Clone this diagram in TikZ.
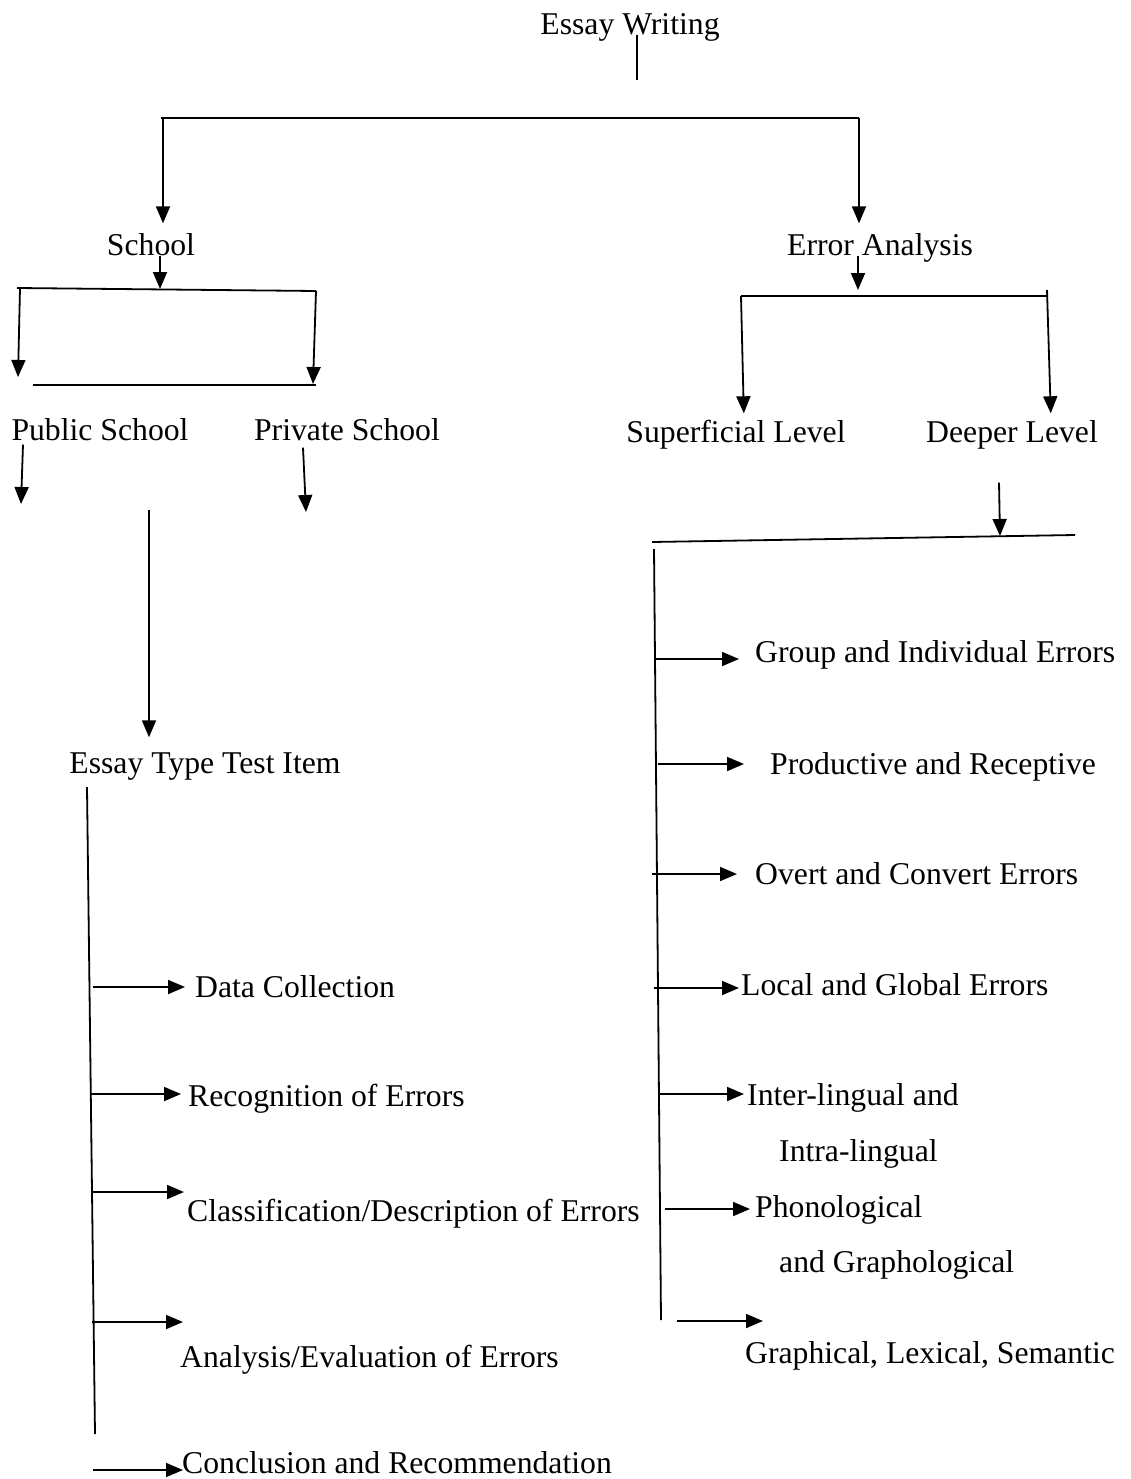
\documentclass[tikz,border=0pt]{standalone}
\usepackage{fontspec}
\setmainfont{Liberation Serif}
\usetikzlibrary{arrows.meta}
\tikzstyle{txt} = [inner sep=0pt, text height=21pt, text depth=0pt,
font=\fontsize{31.7}{38}\selectfont]
\tikzstyle{entry} = [txt, anchor=west]
\tikzstyle{wire} = [line width=1.8pt]
\tikzstyle{pointer} = [wire, -{Triangle[length=17pt,width=14pt]}]

\begin{document}
\begin{tikzpicture}[x=1pt, y=-1pt]
	\useasboundingbox (0,0) rectangle (1130,1479);
	% We start with the root and its first split
	\node [txt] (root) at (630,24) {Essay Writing};
	\coordinate (rootdrop) at (637,80);
	\draw [wire] (root.south -| rootdrop) -- (rootdrop);
	\coordinate (splitL) at (161,118);
	\coordinate (splitR) at (859,118);
	\draw [wire] (splitL) -- (splitR);
	\node [txt] (school) at (151,245) {School};
	\node [txt] (ea) at (880,245) {Error Analysis};
	\draw [pointer, shorten >=11pt] ([xshift=2pt]splitL) -- ([xshift=2pt]splitL |- school.north);
	\draw [pointer, shorten >=11pt] (splitR) -- (splitR |- ea.north);

	% The school branch
	\coordinate (sdrop) at (160,289);
	\coordinate (sbarL) at (17,288);
	\coordinate (sbarR) at (316,291);
	\draw [pointer] (school.south -| sdrop) -- (sdrop);
	\draw [wire] (sbarL) -- (sbarR);
	\coordinate (pubtip) at (18,377);
	\coordinate (privtip) at (313,384);
	\draw [pointer] ([xshift=3pt]sbarL) -- (pubtip);
	\draw [pointer] (sbarR) -- (privtip);
	\coordinate (sunderL) at (33,385);
	\draw [wire] (sunderL) -- (sbarR |- sunderL);
	\node [txt] (public) at (100,430) {Public School};
	\node [txt] (private) at (347,430) {Private School};
	\coordinate (pubend) at (21,504);
	\coordinate (privend) at (306,512);
	\draw [pointer] ([shift={(-77pt,-4pt)}]public.south) -- (pubend);
	\draw [pointer] ([shift={(-44pt,-7pt)}]private.south) -- (privend);
	\coordinate (midtop) at (149,510);
	\node [txt] (ett) at (205,763) {Essay Type Test Item};
	\draw [pointer, shorten >=15pt] (midtop) -- (midtop |- ett.north);

	% Steps hanging from the left spine
	\coordinate (spinetop) at (87,787);
	\coordinate (spinebot) at (95,1434);
	\draw [wire] (spinetop) -- (spinebot);
	\node [entry] (dc) at (195,987) {Data Collection};
	\node [entry] (roe) at (188,1096) {Recognition of Errors};
	\node [entry] (cde) at (187,1211) {Classification/Description of Errors};
	\node [entry] (aee) at (180,1357) {Analysis/Evaluation of Errors};
	\node [entry] (cr) at (182,1463) {Conclusion and Recommendation};
	\draw [pointer] ([xshift=-102pt]dc.west) -- ([xshift=-10pt]dc.west);
	\draw [pointer] ([shift={(-98pt,2pt)}]roe.west) -- ([shift={(-7pt,2pt)}]roe.west);
	\draw [pointer] ([shift={(-94pt,19pt)}]cde.west) -- ([shift={(-3pt,19pt)}]cde.west);
	\draw [pointer] ([shift={(-88pt,35pt)}]aee.west) -- ([shift={(3pt,35pt)}]aee.west);
	\draw [pointer] ([shift={(-89pt,-7pt)}]cr.west) -- ([shift={(1pt,-7pt)}]cr.west);

	% The error analysis branch
	\coordinate (eadrop) at (858,290);
	\draw [pointer] (ea.south -| eadrop) -- (eadrop);
	\coordinate (ebarL) at (741,296);
	\coordinate (ebarR) at (1047,296);
	\draw [wire] (ebarL) -- (ebarR);
	\node [txt] (sup) at (736,432) {Superficial Level};
	\node [txt] (deep) at (1012,432) {Deeper Level};
	\draw [pointer, shorten >=8pt] (ebarL) -- ([xshift=3pt]ebarL |- sup.north);
	\draw [pointer, shorten >=8pt] ([yshift=6pt]ebarR) -- ([xshift=4pt]ebarR |- deep.north);
	\coordinate (dhit) at (1000,536);
	\draw [pointer] ([shift={(-13pt,-40pt)}]deep.south) -- (dhit);
	\coordinate (dbarL) at (652,542);
	\coordinate (dbarR) at (1075,535);
	\draw [wire] (dbarL) -- (dbarR);

	% Kinds of errors on the right spine
	\coordinate (rspinetop) at (654,549);
	\coordinate (rspinebot) at (661,1320);
	\draw [wire] (rspinetop) -- (rspinebot);
	\node [entry] (ge) at (755,652) {Group and Individual Errors};
	\node [entry] (pr) at (770,764) {Productive and Receptive};
	\node [entry] (oc) at (755,874) {Overt and Convert Errors};
	\node [entry] (lg) at (741,985) {Local and Global Errors};
	\node [entry] (il) at (747,1095) {Inter-lingual and};
	\node [entry] (ilb) at (779,1151) {Intra-lingual};
	\node [entry] (ph) at (755,1207) {Phonological};
	\node [entry] (phb) at (779,1262) {and Graphological};
	\node [entry] (gr) at (745,1353) {Graphical, Lexical, Semantic};
	\draw [pointer] ([shift={(-100pt,-7pt)}]ge.west) -- ([shift={(-16pt,-7pt)}]ge.west);
	\draw [pointer] ([xshift=-112pt]pr.west) -- ([xshift=-26pt]pr.west);
	\draw [pointer] ([xshift=-103pt]oc.west) -- ([xshift=-18pt]oc.west);
	\draw [pointer] ([shift={(-87pt,-3pt)}]lg.west) -- ([shift={(-2pt,-3pt)}]lg.west);
	\draw [pointer] ([shift={(-89pt,1pt)}]il.west) -- ([shift={(-3pt,1pt)}]il.west);
	\draw [pointer] ([shift={(-90pt,-2pt)}]ph.west) -- ([shift={(-5pt,-2pt)}]ph.west);
	\draw [pointer] ([shift={(-68pt,32pt)}]gr.west) -- ([shift={(18pt,32pt)}]gr.west);
\end{tikzpicture}
\end{document}
